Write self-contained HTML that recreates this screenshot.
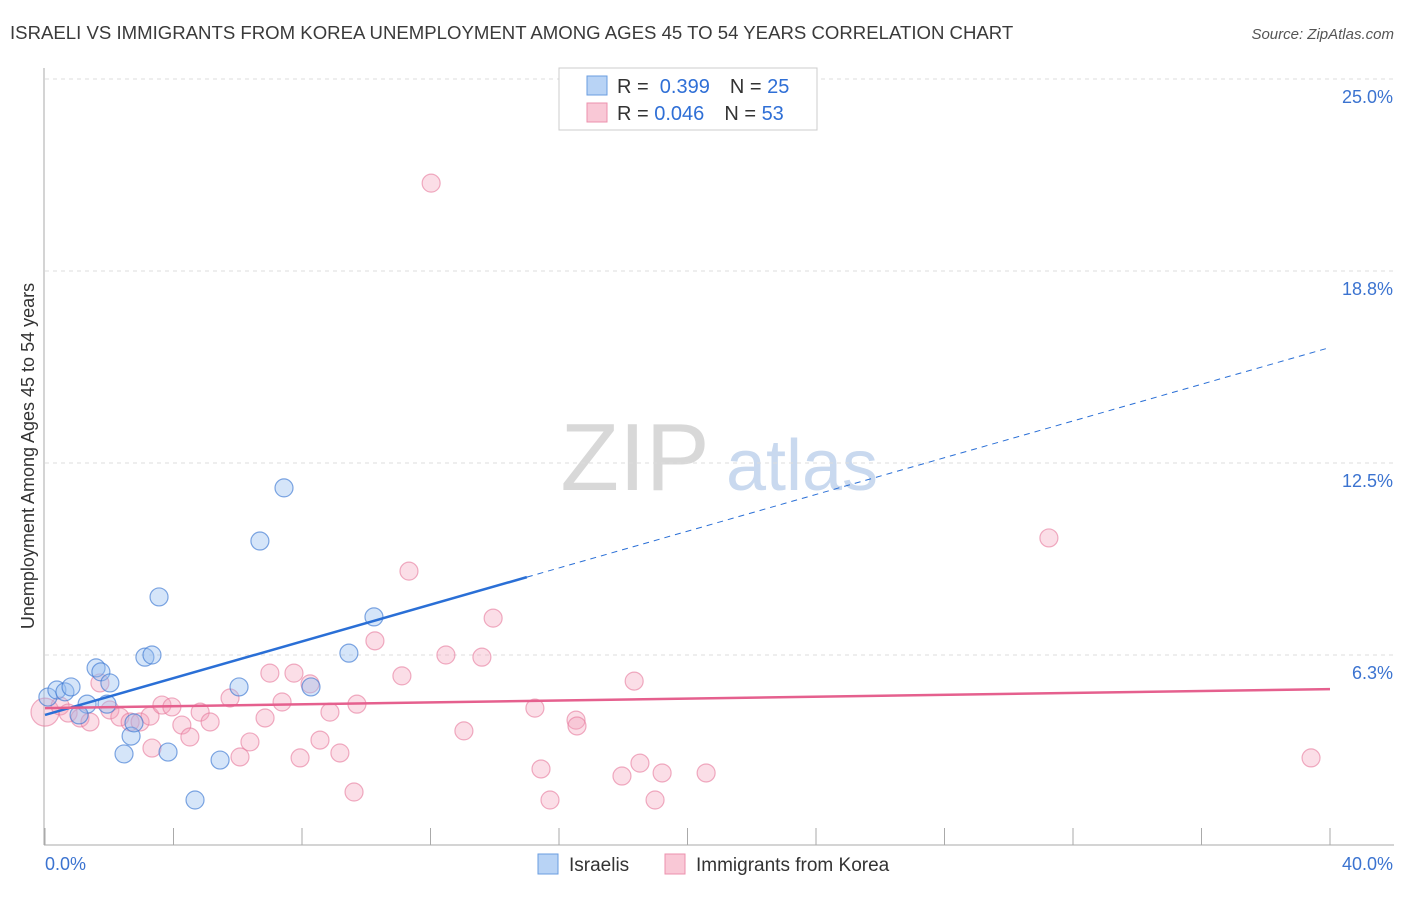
<!DOCTYPE html>
<html><head><meta charset="utf-8"><style>
body{margin:0;background:#fff;font-family:"Liberation Sans",sans-serif;}
svg text{font-family:"Liberation Sans",sans-serif;}
</style></head><body>
<svg id="chart" width="1406" height="892" viewBox="0 0 1406 892" xmlns="http://www.w3.org/2000/svg">
<text x="10" y="39" font-size="18.6" fill="#3a3a3a">ISRAELI VS IMMIGRANTS FROM KOREA UNEMPLOYMENT AMONG AGES 45 TO 54 YEARS CORRELATION CHART</text>
<text x="1394" y="39" font-size="15" fill="#555" text-anchor="end" font-style="italic">Source: ZipAtlas.com</text>
<g>
<text x="635" y="490" font-size="96" fill="#d8d8d8" text-anchor="middle" font-family="Liberation Serif">ZIP</text>
<text x="802" y="490" font-size="72" fill="#c9d9ef" text-anchor="middle">atlas</text>
</g>
<g id="grid"></g>
<g id="axes"></g>
<g id="marks"></g>
<text transform="translate(34,456) rotate(-90)" font-size="18" fill="#333" text-anchor="middle">Unemployment Among Ages 45 to 54 years</text>
<g>
<rect x="559" y="68" width="258" height="62" fill="#fff" stroke="#ccc"/>
<rect x="587" y="76" width="20" height="19" fill="#b8d3f5" stroke="#6a9ee0"/>
<rect x="587" y="103" width="20" height="19" fill="#f9c8d6" stroke="#ec91ad"/>
<text x="617" y="93" font-size="20" fill="#333">R = <tspan fill="#2f6fd6">&#160;0.399</tspan><tspan dx="20">N = </tspan><tspan fill="#2f6fd6">25</tspan></text>
<text x="617" y="120" font-size="20" fill="#333">R = <tspan fill="#2f6fd6">0.046</tspan><tspan dx="20">N = </tspan><tspan fill="#2f6fd6">53</tspan></text>
</g>
<g>
<rect x="538" y="854" width="20" height="20" fill="#b8d3f5" stroke="#6a9ee0"/>
<text x="569" y="871" font-size="19" fill="#333">Israelis</text>
<rect x="665" y="854" width="20" height="20" fill="#f9c8d6" stroke="#ec91ad"/>
<text x="696" y="871" font-size="19" fill="#333">Immigrants from Korea</text>
</g>
</svg>
<script>
const yTicks=[6.25,12.5,18.75,25];
const yTickLabels=["6.3%","12.5%","18.8%","25.0%"];
const xTickLabels=["0.0%","40.0%"];
const blueX=[0.09,0.37,0.62,0.81,1.31,1.59,1.74,2.02,1.93,1.06,2.68,2.46,2.77,3.11,3.33,3.55,3.83,4.67,5.45,6.04,6.69,7.44,8.28,9.46,10.24];
const blueY=[4.88,5.11,5.05,5.21,4.65,5.83,5.70,5.34,4.65,4.30,3.61,3.03,4.04,6.18,6.25,8.14,3.09,1.53,2.83,5.21,9.96,11.69,5.21,6.31,7.49];
const pinkX=[0,0.47,0.72,1.09,1.40,1.71,2.02,2.33,2.65,2.96,3.27,3.33,3.64,3.95,4.26,4.51,4.83,5.14,5.76,6.07,6.38,6.85,7.00,7.38,7.75,7.94,8.25,8.56,8.87,9.18,9.62,9.71,10.27,11.11,11.33,12.02,12.48,13.04,13.60,13.95,15.25,15.44,15.72,16.53,16.56,17.96,18.34,18.52,18.99,19.21,20.58,31.25,39.41];
const pinkY=[4.39,4.59,4.36,4.20,4.07,5.34,4.46,4.23,4.07,4.07,4.26,3.22,4.62,4.56,3.97,3.58,4.39,4.07,4.85,2.93,3.42,4.20,5.66,4.72,5.66,2.90,5.31,3.48,4.39,3.06,1.79,4.65,6.71,5.57,8.98,21.61,6.25,3.78,6.18,7.45,4.52,2.54,1.53,4.13,3.94,2.31,5.40,2.73,1.53,2.41,2.41,10.06,2.90];
const blueTrend=[4.30,0.299]; // intercept, slope
const pinkTrend=[4.52,0.0155];
const blueSolidEnd=15;
const NS="http://www.w3.org/2000/svg";
const X=v=>45+v/40*1285, Y=v=>847-v/6.25*192;
function mk(tag,attrs,parent){const e=document.createElementNS(NS,tag);for(const k in attrs)e.setAttribute(k,attrs[k]);parent.appendChild(e);return e;}
const grid=document.getElementById('grid'),axes=document.getElementById('axes'),marks=document.getElementById('marks');
yTicks.forEach((t,i)=>{
 const l=mk('line',{x1:45,x2:1394,y1:Y(t),y2:Y(t),stroke:'#ddd','stroke-dasharray':'4,4'},grid);
 
 
 const tx=mk('text',{x:1393,y:Y(t)+24,'font-size':18,fill:'#3b73d0','text-anchor':'end'},axes);
 tx.textContent=yTickLabels[i];
 
 
});
mk('line',{x1:44,x2:44,y1:68,y2:845,stroke:'#aaa'},axes);
mk('line',{x1:44,x2:1394,y1:845,y2:845,stroke:'#aaa'},axes);
for(let i=0;i<=10;i++){const tk=mk('line',{x1:X(i*4),x2:X(i*4),y1:828,y2:845,stroke:'#aaa'},axes);
 
 }
const x0=mk('text',{x:45,y:870,'font-size':18,fill:'#3b73d0'},axes);x0.textContent=xTickLabels[0];


const x1=mk('text',{x:1393,y:870,'font-size':18,fill:'#3b73d0','text-anchor':'end'},axes);x1.textContent=xTickLabels[1];


pinkX.forEach((v,i)=>{const c=mk('circle',{cx:X(v),cy:Y(pinkY[i]),r:i==0?14:9,fill:'rgba(244,160,186,0.35)',stroke:'rgba(230,120,155,0.6)','stroke-width':1.2},marks);
 
 });
blueX.forEach((v,i)=>{const c=mk('circle',{cx:X(v),cy:Y(blueY[i]),r:9,fill:'rgba(150,190,240,0.4)',stroke:'rgba(60,120,210,0.65)','stroke-width':1.2},marks);
 
 });
const bt=v=>blueTrend[0]+blueTrend[1]*v, pt=v=>pinkTrend[0]+pinkTrend[1]*v;
const l1=mk('line',{x1:X(0),y1:Y(bt(0)),x2:X(blueSolidEnd),y2:Y(bt(blueSolidEnd)),stroke:'#2a6fd6','stroke-width':2.5},marks);


const l2=mk('line',{x1:X(blueSolidEnd),y1:Y(bt(blueSolidEnd)),x2:X(40),y2:Y(bt(40)),stroke:'#2a6fd6','stroke-width':1,'stroke-dasharray':'6,5'},marks);


const l3=mk('line',{x1:X(0),y1:Y(pt(0)),x2:X(40),y2:Y(pt(40)),stroke:'#e5608e','stroke-width':2.5},marks);


</script>
</body></html>
